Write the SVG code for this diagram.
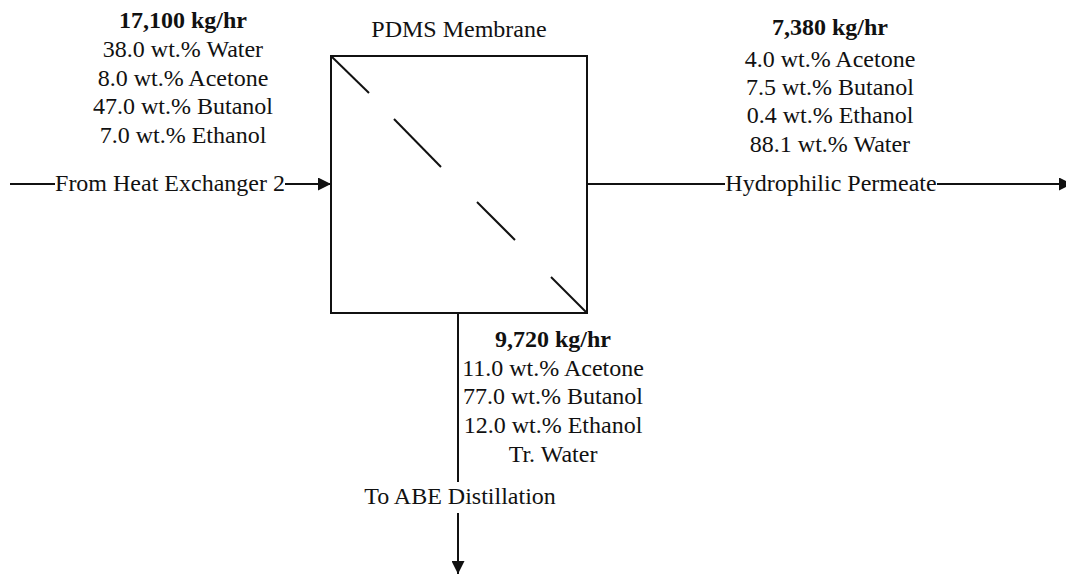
<svg xmlns="http://www.w3.org/2000/svg" width="1066" height="575" viewBox="0 0 1066 575">
<defs>
<marker id="ar" viewBox="0 0 10 10" refX="10" refY="5" markerWidth="18" markerHeight="13" markerUnits="userSpaceOnUse" orient="auto">
<path d="M0,0 L10,5 L0,10 z" fill="#111"/>
</marker>
</defs>
<rect width="1066" height="575" fill="#fff"/>
<g id="membrane">
<g stroke="#111" stroke-width="2" fill="none">
<rect x="331" y="56" width="256" height="257"/>
<line x1="331" y1="56" x2="369" y2="93"/>
<line x1="394" y1="119" x2="441" y2="167"/>
<line x1="477" y1="202" x2="515" y2="240"/>
<line x1="551" y1="277" x2="587" y2="313"/>
</g>
<text x="459" y="37" font-family="Liberation Serif" font-size="24" fill="#111" text-anchor="middle">PDMS Membrane</text>
</g>
<g id="feed-label" font-family="Liberation Serif" font-size="24" fill="#111" text-anchor="middle">
<text x="183" y="28" font-weight="bold">17,100 kg/hr</text>
<text x="183" y="57">38.0 wt.% Water</text>
<text x="183" y="86">8.0 wt.% Acetone</text>
<text x="183" y="114">47.0 wt.% Butanol</text>
<text x="183" y="143">7.0 wt.% Ethanol</text>
</g>
<g id="permeate-label" font-family="Liberation Serif" font-size="24" fill="#111" text-anchor="middle">
<text x="830" y="35" font-weight="bold">7,380 kg/hr</text>
<text x="830" y="67">4.0 wt.% Acetone</text>
<text x="830" y="95">7.5 wt.% Butanol</text>
<text x="830" y="123">0.4 wt.% Ethanol</text>
<text x="830" y="152">88.1 wt.% Water</text>
</g>
<g id="retentate-label" font-family="Liberation Serif" font-size="24" fill="#111" text-anchor="middle">
<text x="553" y="347" font-weight="bold">9,720 kg/hr</text>
<text x="553" y="376">11.0 wt.% Acetone</text>
<text x="553" y="404">77.0 wt.% Butanol</text>
<text x="553" y="433">12.0 wt.% Ethanol</text>
<text x="553" y="462">Tr. Water</text>
</g>
<g id="connectors">
<g stroke="#111" stroke-width="2" fill="none">
<line x1="10" y1="184" x2="55" y2="184"/>
<line x1="285" y1="184" x2="331" y2="184" marker-end="url(#ar)"/>
<line x1="587" y1="184" x2="725" y2="184"/>
<line x1="937" y1="184" x2="1072" y2="184" marker-end="url(#ar)"/>
<line x1="458" y1="313" x2="458" y2="482"/>
<line x1="458" y1="513" x2="458" y2="574" marker-end="url(#ar)"/>
</g>
<g font-family="Liberation Serif" font-size="24" fill="#111" text-anchor="middle">
<text x="170" y="191">From Heat Exchanger 2</text>
<text x="831" y="191">Hydrophilic Permeate</text>
<text x="460" y="504">To ABE Distillation</text>
</g>
</g>
</svg>
